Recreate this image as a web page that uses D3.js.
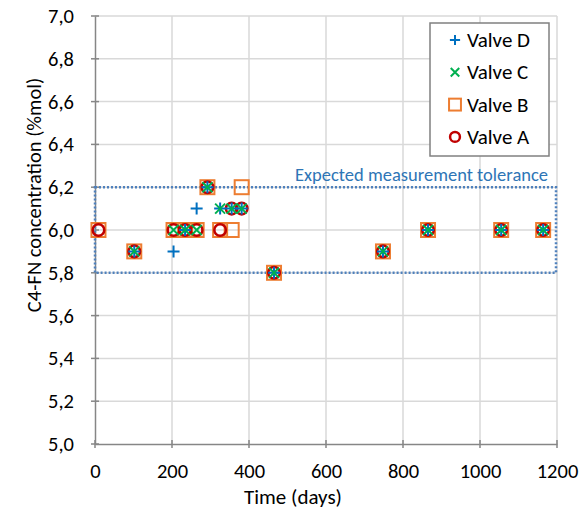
<!DOCTYPE html>
<html>
<head>
<meta charset="utf-8">
<script src="https://cdn.jsdelivr.net/npm/d3@7"></script>
<style>
  body { margin: 0; background: #fff; }
  text { font-family: Carlito, Calibri, Lato, "Open Sans", sans-serif; }
</style>
</head>
<body>
<script>
const width = 580;
const height = 512;
const margin = { top: 16, right: 23, bottom: 68, left: 95 };

// days of each measurement, per valve
const daysA = [9, 102, 204, 234, 264, 292, 325, 355, 381, 465, 748, 865, 1055, 1164];
const valveA = [6.0, 5.9, 6.0, 6.0, 6.0, 6.2, 6.0, 6.1, 6.1, 5.8, 5.9, 6.0, 6.0, 6.0];
const daysB = [9, 102, 204, 234, 264, 292, 325, 355, 381, 465, 748, 865, 1055, 1164];
const valveB = [6.0, 5.9, 6.0, 6.0, 6.0, 6.2, 6.0, 6.0, 6.2, 5.8, 5.9, 6.0, 6.0, 6.0];
const daysC = [102, 204, 234, 264, 292, 325, 355, 381, 465, 748, 865, 1055, 1164];
const valveC = [5.9, 6.0, 6.0, 6.0, 6.2, 6.1, 6.1, 6.1, 5.8, 5.9, 6.0, 6.0, 6.0];
const daysD = [102, 204, 234, 264, 292, 325, 355, 381, 465, 748, 865, 1055, 1164];
const valveD = [5.9, 5.9, 6.0, 6.1, 6.2, 6.1, 6.1, 6.1, 5.8, 5.9, 6.0, 6.0, 6.0];

const xTicks = [0, 200, 400, 600, 800, 1000, 1200];
const yTicks = [5.0, 5.2, 5.4, 5.6, 5.8, 6.0, 6.2, 6.4, 6.6, 6.8, 7.0];
const tolerance = { x0: 0, x1: 1200, lo: 5.8, hi: 6.2 };
const legendNames = ["Valve D", "Valve C", "Valve B", "Valve A"];

const colors = { A: "#c00000", B: "#ed7d31", C: "#00b050", D: "#0070c0" };

const svg = d3.select("body")
  .append("svg")
  .attr("width", width)
  .attr("height", height);

const x = d3.scaleLinear().domain([0, 1200]).range([margin.left, width - margin.right]);
const y = d3.scaleLinear().domain([5, 7]).range([height - margin.bottom, margin.top]);

// grid
svg.append("g")
  .selectAll("line")
  .data(xTicks.slice(1))
  .enter().append("line")
  .attr("x1", d => x(d)).attr("x2", d => x(d))
  .attr("y1", y(5)).attr("y2", y(7))
  .attr("stroke", "#d9d9d9").attr("stroke-width", 1.5);

svg.append("g")
  .selectAll("line")
  .data(yTicks.slice(1))
  .enter().append("line")
  .attr("x1", x(0)).attr("x2", x(1200))
  .attr("y1", d => y(d)).attr("y2", d => y(d))
  .attr("stroke", "#d9d9d9").attr("stroke-width", 1.5);

// axes (Excel style cross ticks)
const fmt = d => d.toFixed(1).replace(".", ",");

const xAxis = svg.append("g")
  .attr("transform", `translate(0,${y(5)})`)
  .call(d3.axisBottom(x).tickValues(xTicks).tickFormat(d3.format("d")).tickSize(0).tickPadding(19));
xAxis.selectAll("line.cross")
  .data(xTicks).enter().append("line")
  .attr("x1", d => x(d)).attr("x2", d => x(d))
  .attr("y1", -4).attr("y2", 4)
  .attr("stroke", "#868686").attr("stroke-width", 1.5);

const yAxis = svg.append("g")
  .attr("transform", `translate(${x(0)},0)`)
  .call(d3.axisLeft(y).tickValues(yTicks).tickFormat(fmt).tickSize(0).tickPadding(21));
yAxis.selectAll("line.cross")
  .data(yTicks).enter().append("line")
  .attr("x1", -4).attr("x2", 4)
  .attr("y1", d => y(d)).attr("y2", d => y(d))
  .attr("stroke", "#868686").attr("stroke-width", 1.5);

svg.selectAll(".domain").attr("stroke", "#868686").attr("stroke-width", 1.5);
svg.selectAll(".tick text")
  .attr("fill", "#000")
  .style("font-size", "20.5px")
  .style("font-family", "Carlito, Calibri, Lato, 'Open Sans', sans-serif");

// tolerance band
svg.append("rect")
  .attr("x", x(tolerance.x0))
  .attr("y", y(tolerance.hi))
  .attr("width", x(tolerance.x1) - x(tolerance.x0) - 1)
  .attr("height", y(tolerance.lo) - y(tolerance.hi))
  .attr("fill", "none")
  .attr("stroke", "#4f81bd")
  .attr("stroke-width", 2.5)
  .attr("stroke-dasharray", "2,2");

svg.append("text")
  .attr("x", 548)
  .attr("y", y(tolerance.hi) - 6)
  .attr("text-anchor", "end")
  .attr("fill", "#2e75b6")
  .style("font-size", "18.5px")
  .text("Expected measurement tolerance");

// markers
function drawMarker(g, kind, cx, cy, s = 1) {
  if (kind === "B") {
    g.append("rect")
      .attr("x", cx - 7 * s).attr("y", cy - 7 * s)
      .attr("width", 14 * s).attr("height", 14 * s)
      .attr("fill", "none").attr("stroke", colors.B).attr("stroke-width", 2);
  } else if (kind === "A") {
    g.append("circle")
      .attr("cx", cx).attr("cy", cy).attr("r", 5.8 * s)
      .attr("fill", "none").attr("stroke", colors.A).attr("stroke-width", 2.5);
  } else if (kind === "C") {
    const r = 5 * s;
    g.append("path")
      .attr("d", `M${cx - r},${cy - r}L${cx + r},${cy + r}M${cx - r},${cy + r}L${cx + r},${cy - r}`)
      .attr("stroke", colors.C).attr("stroke-width", 2);
  } else {
    const r = 6 * s;
    g.append("path")
      .attr("d", `M${cx - r},${cy}L${cx + r},${cy}M${cx},${cy - r}L${cx},${cy + r}`)
      .attr("stroke", colors.D).attr("stroke-width", 2);
  }
}

const series = [
  { key: "B", days: daysB, vals: valveB },
  { key: "A", days: daysA, vals: valveA },
  { key: "D", days: daysD, vals: valveD },
  { key: "C", days: daysC, vals: valveC }
];

series.forEach(s => {
  const g = svg.append("g").attr("class", "series-" + s.key);
  s.days.forEach((d, i) => drawMarker(g, s.key, x(d), y(s.vals[i])));
});

// legend
const legend = svg.append("g");
legend.append("rect")
  .attr("x", 430).attr("y", 23)
  .attr("width", 119).attr("height", 133)
  .attr("fill", "#fff")
  .attr("stroke", "#808080").attr("stroke-width", 1.5);

["D", "C", "B", "A"].forEach((k, i) => {
  const ly = 40 + i * 32.3;
  drawMarker(legend, k, 455, ly, 0.85);
  legend.append("text")
    .attr("x", 467).attr("y", ly + 7)
    .style("font-size", "21px")
    .text(legendNames[i]);
});

// axis titles
svg.append("text")
  .attr("x", 293)
  .attr("y", 504)
  .attr("text-anchor", "middle")
  .style("font-size", "21px")
  .text("Time (days)");

svg.append("text")
  .attr("transform", `translate(41,195) rotate(-90)`)
  .attr("text-anchor", "middle")
  .style("font-size", "20.5px")
  .text("C4-FN concentration (%mol)");
</script>
</body>
</html>
